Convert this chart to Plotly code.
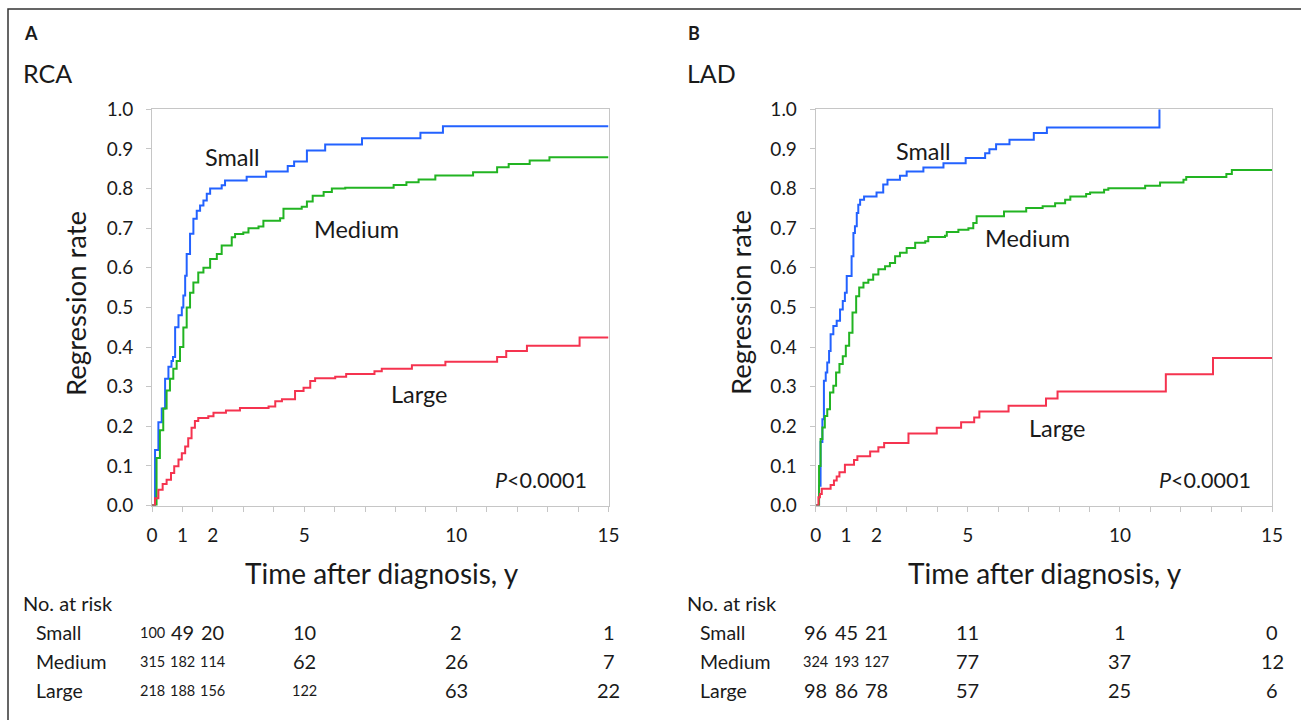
import plotly.graph_objects as go

# ---------------- data ----------------
# Panel A: RCA
rca_small_t = [0, 0.1, 0.21, 0.32, 0.43, 0.54, 0.64, 0.69, 0.76, 0.87, 0.98, 1.03, 1.09, 1.14, 1.25, 1.36, 1.47, 1.58, 1.69, 1.80, 1.91, 2.29, 2.40, 3.11, 3.75, 4.46, 4.67, 5.09, 5.69, 6.90, 8.82, 9.56, 15]
rca_small_y = [0, 0.14, 0.21, 0.245, 0.32, 0.35, 0.365, 0.375, 0.45, 0.48, 0.50, 0.53, 0.58, 0.635, 0.686, 0.724, 0.744, 0.757, 0.77, 0.787, 0.80, 0.808, 0.82, 0.83, 0.843, 0.857, 0.868, 0.896, 0.911, 0.927, 0.941, 0.957, 0.957]

rca_medium_t = [0, 0.15, 0.26, 0.37, 0.48, 0.59, 0.70, 0.81, 0.92, 1.03, 1.14, 1.25, 1.36, 1.52, 1.69, 1.91, 2.13, 2.29, 2.62, 2.73, 3.0, 3.17, 3.5, 3.66, 4.21, 4.32, 4.92, 5.09, 5.28, 5.64, 5.91, 6.35, 7.94, 8.36, 8.76, 9.31, 10.55, 11.34, 11.72, 12.41, 13.06, 15]
rca_medium_y = [0, 0.12, 0.19, 0.245, 0.29, 0.32, 0.345, 0.365, 0.40, 0.449, 0.50, 0.537, 0.563, 0.588, 0.60, 0.622, 0.635, 0.656, 0.677, 0.685, 0.689, 0.70, 0.704, 0.719, 0.725, 0.749, 0.754, 0.767, 0.782, 0.791, 0.80, 0.802, 0.809, 0.816, 0.823, 0.833, 0.841, 0.854, 0.862, 0.871, 0.879, 0.879]

rca_large_t = [0, 0.1, 0.21, 0.35, 0.48, 0.625, 0.73, 0.87, 0.98, 1.09, 1.19, 1.30, 1.41, 1.52, 1.85, 2.02, 2.43, 2.89, 3.83, 4.05, 4.27, 4.70, 4.98, 5.2, 5.36, 6.02, 6.38, 7.31, 7.55, 8.54, 9.64, 11.34, 11.64, 12.32, 14.05, 15]
rca_large_y = [0, 0.018, 0.04, 0.054, 0.065, 0.082, 0.099, 0.116, 0.132, 0.149, 0.17, 0.196, 0.213, 0.221, 0.225, 0.234, 0.24, 0.246, 0.25, 0.263, 0.268, 0.289, 0.297, 0.314, 0.321, 0.325, 0.332, 0.339, 0.345, 0.354, 0.363, 0.375, 0.39, 0.403, 0.424, 0.424]

# Panel B: LAD
lad_small_t = [0, 0.11, 0.16, 0.22, 0.27, 0.33, 0.38, 0.44, 0.49, 0.58, 0.69, 0.80, 0.89, 0.96, 1.02, 1.18, 1.24, 1.29, 1.35, 1.40, 1.46, 1.59, 2.0, 2.22, 2.36, 2.77, 2.99, 3.54, 4.2, 4.93, 5.57, 5.71, 5.93, 6.37, 7.17, 7.6, 11.3]
lad_small_y = [0, 0.05, 0.16, 0.218, 0.315, 0.336, 0.361, 0.39, 0.432, 0.453, 0.466, 0.495, 0.516, 0.537, 0.579, 0.629, 0.688, 0.705, 0.738, 0.759, 0.772, 0.78, 0.79, 0.81, 0.822, 0.832, 0.843, 0.853, 0.864, 0.877, 0.889, 0.899, 0.912, 0.923, 0.94, 0.954, 1.0]

lad_medium_t = [0, 0.11, 0.16, 0.22, 0.30, 0.38, 0.47, 0.58, 0.67, 0.78, 0.89, 0.99, 1.10, 1.21, 1.33, 1.43, 1.57, 1.73, 1.89, 2.06, 2.28, 2.44, 2.61, 2.77, 2.99, 3.27, 3.6, 3.70, 4.25, 4.31, 4.69, 5.02, 5.18, 5.29, 6.19, 6.92, 7.46, 7.87, 8.2, 8.37, 8.89, 9.02, 9.48, 9.62, 10.83, 11.32, 12.09, 12.18, 13.5, 13.68, 15]
lad_medium_y = [0, 0.10, 0.168, 0.197, 0.226, 0.243, 0.285, 0.302, 0.336, 0.357, 0.377, 0.403, 0.436, 0.487, 0.528, 0.55, 0.562, 0.57, 0.583, 0.596, 0.604, 0.612, 0.629, 0.638, 0.65, 0.663, 0.667, 0.678, 0.681, 0.69, 0.696, 0.70, 0.713, 0.73, 0.742, 0.751, 0.755, 0.763, 0.772, 0.78, 0.786, 0.79, 0.797, 0.801, 0.807, 0.815, 0.822, 0.829, 0.837, 0.847, 0.847]

lad_large_t = [0, 0.09, 0.14, 0.2, 0.49, 0.6, 0.69, 0.78, 0.96, 1.26, 1.37, 1.79, 2.06, 2.25, 3.05, 3.98, 4.78, 5.21, 5.38, 6.34, 7.57, 7.95, 11.51, 13.06, 15]
lad_large_y = [0, 0.021, 0.029, 0.042, 0.052, 0.063, 0.073, 0.084, 0.103, 0.115, 0.124, 0.136, 0.147, 0.158, 0.182, 0.196, 0.21, 0.222, 0.237, 0.252, 0.27, 0.288, 0.331, 0.372, 0.372]

# Number at risk
risk_times = [0, 1, 2, 5, 10, 15]
groups = ["Small", "Medium", "Large"]
rca_risk = {
    "Small": [100, 49, 20, 10, 2, 1],
    "Medium": [315, 182, 114, 62, 26, 7],
    "Large": [218, 188, 156, 122, 63, 22],
}
lad_risk = {
    "Small": [96, 45, 21, 11, 1, 0],
    "Medium": [324, 193, 127, 77, 37, 12],
    "Large": [98, 86, 78, 57, 25, 6],
}
# which cells are printed in the smaller font in the original
rca_risk_small_font = {
    "Small": [True, False, False, False, False, False],
    "Medium": [True, True, True, False, False, False],
    "Large": [True, True, True, True, False, False],
}
lad_risk_small_font = {
    "Small": [False] * 6,
    "Medium": [True, True, True, False, False, False],
    "Large": [False] * 6,
}

x_tickvals = list(range(16))
x_ticktext = ["0", "1", "2", "", "", "5", "", "", "", "", "10", "", "", "", "", "15"]

# ---------------- layout helpers ----------------
W, H = 1301, 720
FONT = "Lato"
TXT = "#1a1a1a"
COLORS = {"Small": "#2362ff", "Medium": "#22b422", "Large": "#f5334f"}


def px(x):
    return x / W


def py(y):
    return 1 - y / H


fig = go.Figure()

panels = [
    ("x", "y", [(rca_small_t, rca_small_y, "Small"), (rca_medium_t, rca_medium_y, "Medium"), (rca_large_t, rca_large_y, "Large")]),
    ("x2", "y2", [(lad_small_t, lad_small_y, "Small"), (lad_medium_t, lad_medium_y, "Medium"), (lad_large_t, lad_large_y, "Large")]),
]
for xa, ya, series in panels:
    for t, v, name in series:
        fig.add_trace(go.Scatter(x=t, y=v, mode="lines", line_shape="hv",
                                 line=dict(color=COLORS[name], width=2),
                                 xaxis=xa, yaxis=ya, name=name, showlegend=False,
                                 hoverinfo="skip"))

ydom = [py(505.5), py(109.3)]
axis_common = dict(showline=True, mirror=True, linecolor="#c6c6c6", linewidth=1,
                   ticks="outside", ticklen=5, tickcolor="#c6c6c6", showgrid=False,
                   zeroline=False, automargin=False,
                   tickfont=dict(family=FONT, size=19, color=TXT))
xaxis_extra = dict(range=[0, 15], tickvals=x_tickvals, ticktext=x_ticktext, ticklabelstandoff=8)
yaxis_extra = dict(range=[0, 1], dtick=0.1, tickformat=".1f", ticklabelstandoff=9)

fig.update_layout(
    template="none",
    width=W, height=H, autosize=False, margin=dict(l=0, r=0, t=0, b=0, pad=0),
    paper_bgcolor="white", plot_bgcolor="white",
    xaxis=dict(domain=[px(152), px(608.5)], anchor="y", **xaxis_extra, **axis_common),
    yaxis=dict(domain=ydom, anchor="x", **yaxis_extra, **axis_common),
    xaxis2=dict(domain=[px(815.7), px(1272)], anchor="y2", **xaxis_extra, **axis_common),
    yaxis2=dict(domain=ydom, anchor="x2", **yaxis_extra, **axis_common),
)

ann = []


def text(x, y, s, size, xanchor="center", bold=False, angle=0, xref="paper"):
    ann.append(dict(x=x, y=py(y), xref=xref, yref="paper", text=("<b>%s</b>" % s) if bold else s,
                    showarrow=False, xanchor=xanchor, yanchor="middle", textangle=angle,
                    font=dict(family=FONT, size=size, color=TXT)))


# panel letters and titles
text(px(22), 33, "A", 18, xanchor="left", bold=True)
text(px(21), 73, "RCA", 25, xanchor="left")
text(px(686), 33, "B", 18, xanchor="left", bold=True)
text(px(685), 73, "LAD", 25, xanchor="left")

# axis titles
text(px(75), 304, "Regression rate", 27.5, angle=-90)
text(px(740), 303, "Regression rate", 27.5, angle=-90)
text(px(382), 573, "Time after diagnosis, y", 28)
text(px(1045), 573, "Time after diagnosis, y", 28)

# curve labels
text(px(232), 157, "Small", 23.5)
text(px(356), 229, "Medium", 23.5)
text(px(419), 394, "Large", 23.5)
text(px(924), 151, "Small", 23.5)
text(px(1027), 238, "Medium", 23.5)
text(px(1057), 428, "Large", 23.5)

# P values
text(px(589), 480, "<i>P</i>&lt;0.0001", 21.5, xanchor="right")
text(px(1253), 480, "<i>P</i>&lt;0.0001", 21.5, xanchor="right")

# risk tables
row_y = [632, 661, 690]
for xref, left_x, risk, small in [("x", 21, rca_risk, rca_risk_small_font), ("x2", 685, lad_risk, lad_risk_small_font)]:
    text(px(left_x), 603, "No. at risk", 20, xanchor="left")
    for gi, g in enumerate(groups):
        text(px(left_x + 13), row_y[gi], g, 19.5, xanchor="left")
        for ti, tval in enumerate(risk_times):
            size = 14.5 if small[g][ti] else 20
            ann.append(dict(x=tval, y=py(row_y[gi]), xref=xref, yref="paper", text=str(risk[g][ti]),
                            showarrow=False, xanchor="center", yanchor="middle",
                            font=dict(family=FONT, size=size, color=TXT)))

fig.update_layout(annotations=ann)

# outer frame
fig.add_shape(type="rect", xref="paper", yref="paper", x0=px(8), x1=1.02, y0=-0.02, y1=py(9),
              line=dict(color="#333333", width=1.5), fillcolor="rgba(0,0,0,0)", layer="above")

fig.write_html("out.html", config={"displayModeBar": False},
               post_script="document.body.style.margin='0';document.body.style.padding='0';"
                           "document.documentElement.style.overflow='hidden';")
